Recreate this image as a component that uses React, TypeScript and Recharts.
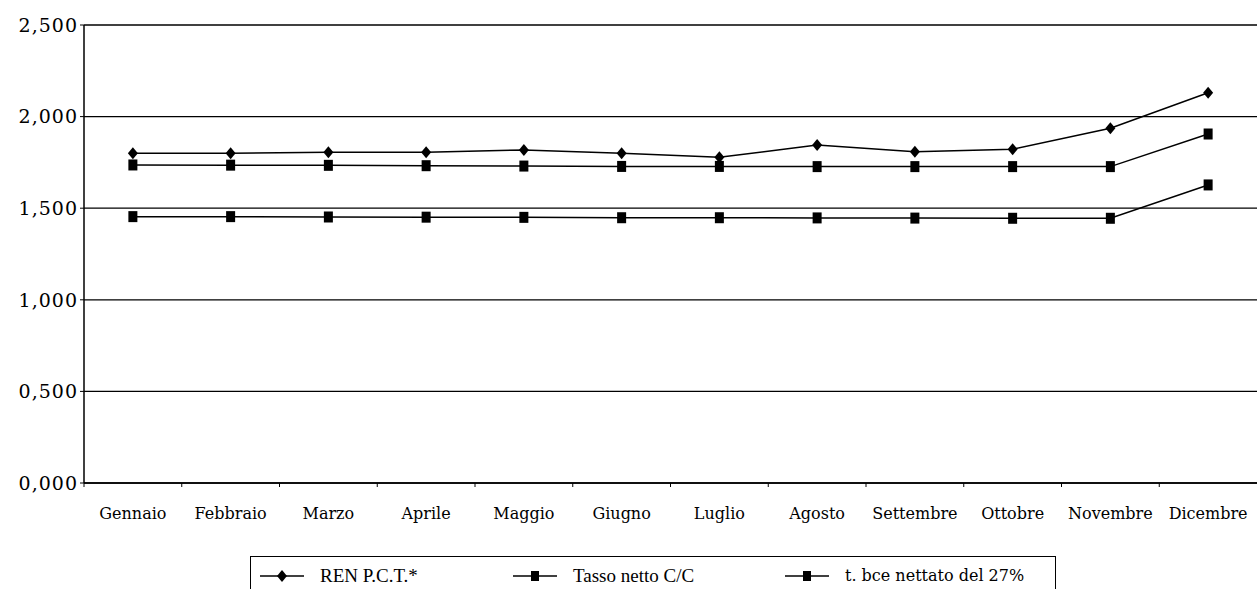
import {
  LineChart,
  Line,
  XAxis,
  YAxis,
  CartesianGrid,
  Legend,
} from "recharts";

const months = [
  "Gennaio",
  "Febbraio",
  "Marzo",
  "Aprile",
  "Maggio",
  "Giugno",
  "Luglio",
  "Agosto",
  "Settembre",
  "Ottobre",
  "Novembre",
  "Dicembre",
];

const renPct = [1.8, 1.8, 1.805, 1.805, 1.818, 1.8, 1.778, 1.845, 1.808, 1.822, 1.936, 2.13];
const tassoNetto = [1.736, 1.735, 1.734, 1.732, 1.73, 1.728, 1.728, 1.727, 1.727, 1.727, 1.727, 1.905];
const bceNettato = [1.454, 1.454, 1.452, 1.451, 1.45, 1.448, 1.448, 1.447, 1.446, 1.445, 1.445, 1.627];

const yTicks = [0, 0.5, 1, 1.5, 2, 2.5];

const seriesNames = ["REN P.C.T.*", "Tasso netto C/C", "t. bce nettato del 27%"];

const data = months.map((m, i) => ({
  month: m,
  ren: renPct[i],
  tasso: tassoNetto[i],
  bce: bceNettato[i],
}));

const CHART_W = 1257;
const CHART_H = 589;
const Y_W = 84;
const BAND = (CHART_W - Y_W) / months.length;

const fmt = (v: number) => v.toFixed(3).replace(".", ",");

function Diamond({ cx, cy }: any) {
  if (cx == null || cy == null) return null;
  return (
    <polygon
      points={`${cx},${cy - 6} ${cx + 5},${cy} ${cx},${cy + 6} ${cx - 5},${cy}`}
      fill="#000"
    />
  );
}

function Square({ cx, cy }: any) {
  if (cx == null || cy == null) return null;
  return <rect x={cx - 4.5} y={cy - 5.5} width={9} height={11} fill="#000" />;
}

function MonthTick({ x, y, payload }: any) {
  return (
    <g>
      <line x1={x - BAND / 2} x2={x - BAND / 2} y1={y - 8} y2={y - 4} stroke="#000" />
      <text
        x={x}
        y={y + 28}
        textAnchor="middle"
        style={{ fontFamily: "'DejaVu Serif'", fontSize: 16 }}
        fill="#000"
      >
        {payload.value}
      </text>
    </g>
  );
}

function LegendBox() {
  const items = [
    { name: seriesNames[0], marker: "diamond", width: 253, font: "'Liberation Serif'", size: 19 },
    { name: seriesNames[1], marker: "square", width: 272, font: "'Liberation Serif'", size: 19 },
    { name: seriesNames[2], marker: "square", width: 260, font: "'DejaVu Serif'", size: 16 },
  ];
  return (
    <div
      style={{
        border: "1.5px solid #000",
        height: 38,
        display: "flex",
        alignItems: "flex-start",
        paddingLeft: 9,
        paddingTop: 8,
        boxSizing: "border-box",
        lineHeight: "22px",
      }}
    >
      {items.map((it) => (
        <div key={it.name} style={{ width: it.width, display: "flex", alignItems: "center" }}>
          <svg width={44} height={14}>
            <line x1={0} x2={44} y1={7} y2={7} stroke="#000" strokeWidth={1.5} />
            {it.marker === "diamond" ? (
              <polygon points="22,1 27,7 22,13 17,7" fill="#000" />
            ) : (
              <rect x={18} y={2} width={8} height={10} fill="#000" />
            )}
          </svg>
          <span style={{ marginLeft: 16, fontFamily: it.font, fontSize: it.size }}>{it.name}</span>
        </div>
      ))}
    </div>
  );
}

export default function App() {
  return (
    <div style={{ position: "absolute", left: 0, top: 0, background: "#fff" }}>
      <LineChart
        width={CHART_W}
        height={CHART_H}
        data={data}
        margin={{ top: 25, right: 0, bottom: 0, left: 0 }}
      >
        <CartesianGrid horizontal vertical={false} stroke="#000" strokeWidth={1.3} />
        <XAxis
          dataKey="month"
          scale="band"
          height={106}
          axisLine={{ stroke: "#000", strokeWidth: 1.5 }}
          tickLine={false}
          tick={<MonthTick />}
          interval={0}
        />
        <YAxis
          width={Y_W}
          domain={[0, 2.5]}
          ticks={yTicks}
          tickFormatter={fmt}
          axisLine={{ stroke: "#000", strokeWidth: 1.5 }}
          tickLine={{ stroke: "#000" }}
          tickSize={4}
          tick={{ fill: "#000", fontFamily: "DejaVu Serif", fontSize: 19, letterSpacing: 1 }}
        />
        <Legend
          verticalAlign="middle"
          wrapperStyle={{ left: 250, top: 556, width: 806, height: 38 }}
          content={<LegendBox />}
        />
        <Line
          dataKey="ren"
          name={seriesNames[0]}
          type="linear"
          stroke="#000"
          strokeWidth={1.5}
          dot={<Diamond />}
          isAnimationActive={false}
        />
        <Line
          dataKey="tasso"
          name={seriesNames[1]}
          type="linear"
          stroke="#000"
          strokeWidth={1.5}
          dot={<Square />}
          isAnimationActive={false}
        />
        <Line
          dataKey="bce"
          name={seriesNames[2]}
          type="linear"
          stroke="#000"
          strokeWidth={1.5}
          dot={<Square />}
          isAnimationActive={false}
        />
      </LineChart>
    </div>
  );
}
